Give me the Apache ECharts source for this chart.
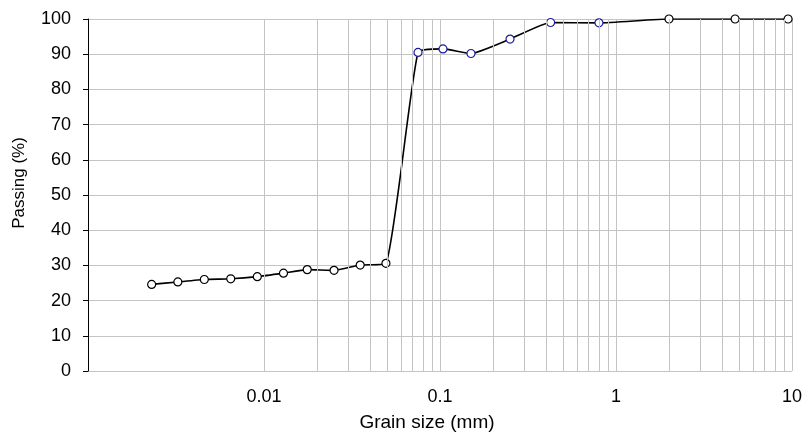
<!DOCTYPE html>
<html>
<head>
<meta charset="utf-8">
<script src="https://cdn.jsdelivr.net/npm/echarts@6/dist/echarts.min.js"></script>
<style>
  html, body { margin: 0; padding: 0; background: #fff; }
  #chart { width: 807px; height: 437px; }
</style>
</head>
<body>
<div id="chart"></div>
<script>
// hydrometer readings
var hydroSize = [0.0023, 0.00324, 0.00458, 0.00647, 0.00916, 0.0129, 0.0176, 0.025, 0.0352, 0.0493];
var hydroPass = [24.6, 25.3, 26.0, 26.2, 26.8, 27.8, 28.8, 28.6, 30.1, 30.6];
// fine sieves
var sieveSize = [0.075, 0.104, 0.15, 0.25, 0.425, 0.8];
var sievePass = [90.5, 91.5, 90.2, 94.3, 99.0, 98.9];
// coarse sieves
var coarseSize = [2.0, 4.75, 9.5];
var coarsePass = [100, 100, 100];

var xTickLabels = ['', '0.01', '0.1', '1', '10'];   // 0.001 .. 10
var yTicks = [0, 10, 20, 30, 40, 50, 60, 70, 80, 90, 100];

var gridGrey = '#c4c4c4';
var fontName = 'Liberation Sans, Arial, sans-serif';

function points(sizes, pass, edge) {
  return sizes.map(function (s, i) {
    return { value: [s, pass[i]], itemStyle: { color: '#fff', borderColor: edge, borderWidth: 1.2 } };
  });
}

var allPoints = []
  .concat(points(hydroSize, hydroPass, '#000'))
  .concat(points(sieveSize, sievePass, '#1c1c9c'))
  .concat(points(coarseSize, coarsePass, '#000'));

// minor vertical grid lines 2..9 in every decade
var minorLines = [];
[0.001, 0.01, 0.1, 1].forEach(function (d) {
  for (var k = 2; k <= 9; k++) minorLines.push({ xAxis: d * k });
});

var chart = echarts.init(document.getElementById('chart'));
chart.setOption({
  animation: false,
  grid: { left: 88, right: 15, top: 19, bottom: 63 },
  xAxis: {
    type: 'log',
    logBase: 10,
    min: 0.001,
    max: 10,
    name: 'Grain size (mm)',
    nameLocation: 'middle',
    nameGap: 42,
    nameTextStyle: { color: '#000', fontSize: 19, fontFamily: fontName, padding: [0, 26, 0, 0] },
    axisLine: { show: false },
    axisTick: { show: false },
    axisLabel: {
      color: '#000', fontSize: 18, fontFamily: fontName, margin: 17,
      formatter: function (v) { return xTickLabels[Math.round(Math.log10(v)) + 3] || ''; }
    },
    splitLine: { show: true, lineStyle: { color: gridGrey, width: 1 } }
  },
  yAxis: {
    type: 'value',
    min: yTicks[0],
    max: yTicks[yTicks.length - 1],
    interval: 10,
    name: 'Passing (%)',
    nameLocation: 'middle',
    nameGap: 60,
    nameTextStyle: { color: '#000', fontSize: 17, fontFamily: fontName, padding: [0, 0, 0, 24] },
    axisLine: { show: true, lineStyle: { color: '#000', width: 1 } },
    axisTick: { show: true, inside: false, length: 5, lineStyle: { color: '#000' } },
    axisLabel: { color: '#000', fontSize: 18, fontFamily: fontName, margin: 17 },
    splitLine: { show: true, lineStyle: { color: gridGrey, width: 1 } }
  },
  series: [
    {
      name: 'minor grid',
      type: 'line',
      data: [],
      silent: true,
      z: 1,
      markLine: {
        silent: true,
        symbol: 'none',
        label: { show: false },
        lineStyle: { color: gridGrey, type: 'solid', width: 1 },
        data: minorLines
      }
    },
    {
      name: 'Passing',
      type: 'line',
      z: 3,
      smooth: 0.15,
      symbol: 'circle',
      symbolSize: 8,
      showAllSymbol: true,
      lineStyle: { color: '#000', width: 1.6 },
      data: allPoints
    }
  ]
});
</script>
</body>
</html>
